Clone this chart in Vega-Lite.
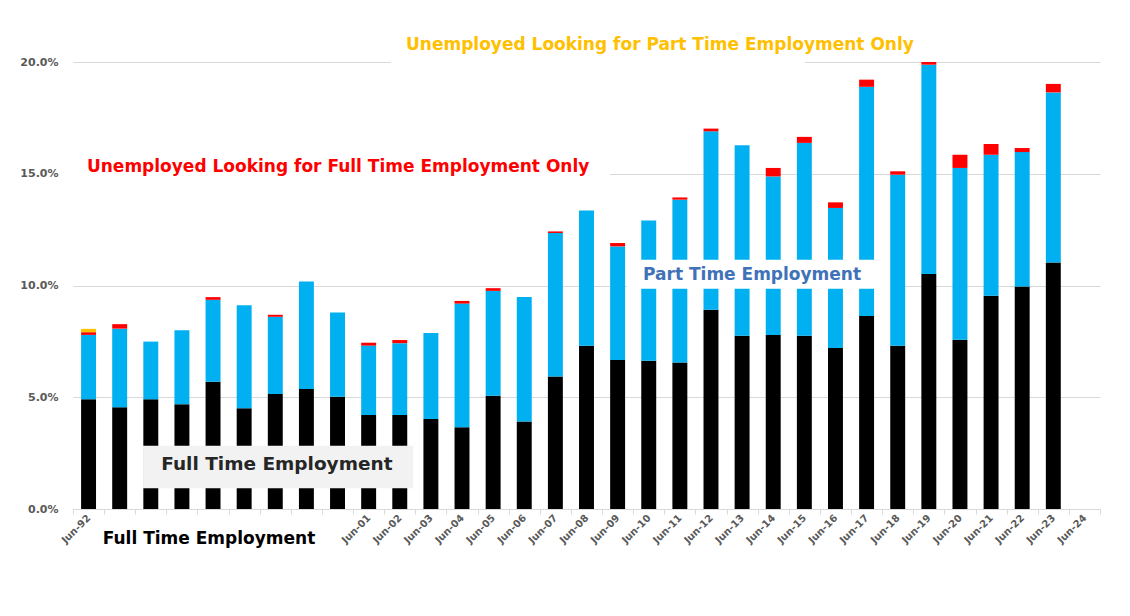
{
  "$schema": "https://vega.github.io/schema/vega-lite/v6.json",
  "autosize": {"type": "none"},
  "padding": {"left": 73, "top": 62, "right": 30, "bottom": 107},
  "width": 1027,
  "height": 447,
  "background": "#ffffff",
  "config": {"view": {"stroke": null}, "font": "DejaVu Sans"},
  "datasets": {
    "emp": [
      {"period": "Jun-92", "series": "Full Time Employment", "value": 0.0491},
      {"period": "Jun-92", "series": "Part Time Employment", "value": 0.0288},
      {"period": "Jun-92", "series": "Unemployed Looking for Full Time Employment Only", "value": 0.0012},
      {"period": "Jun-92", "series": "Unemployed Looking for Part Time Employment Only", "value": 0.0015},
      {"period": "Jun-93", "series": "Full Time Employment", "value": 0.0455},
      {"period": "Jun-93", "series": "Part Time Employment", "value": 0.0352},
      {"period": "Jun-93", "series": "Unemployed Looking for Full Time Employment Only", "value": 0.0020},
      {"period": "Jun-94", "series": "Full Time Employment", "value": 0.0491},
      {"period": "Jun-94", "series": "Part Time Employment", "value": 0.0258},
      {"period": "Jun-95", "series": "Full Time Employment", "value": 0.0469},
      {"period": "Jun-95", "series": "Part Time Employment", "value": 0.0331},
      {"period": "Jun-96", "series": "Full Time Employment", "value": 0.0569},
      {"period": "Jun-96", "series": "Part Time Employment", "value": 0.0367},
      {"period": "Jun-96", "series": "Unemployed Looking for Full Time Employment Only", "value": 0.0012},
      {"period": "Jun-97", "series": "Full Time Employment", "value": 0.0451},
      {"period": "Jun-97", "series": "Part Time Employment", "value": 0.0461},
      {"period": "Jun-98", "series": "Full Time Employment", "value": 0.0514},
      {"period": "Jun-98", "series": "Part Time Employment", "value": 0.0346},
      {"period": "Jun-98", "series": "Unemployed Looking for Full Time Employment Only", "value": 0.0009},
      {"period": "Jun-99", "series": "Full Time Employment", "value": 0.0537},
      {"period": "Jun-99", "series": "Part Time Employment", "value": 0.0481},
      {"period": "Jun-00", "series": "Full Time Employment", "value": 0.0502},
      {"period": "Jun-00", "series": "Part Time Employment", "value": 0.0377},
      {"period": "Jun-01", "series": "Full Time Employment", "value": 0.0421},
      {"period": "Jun-01", "series": "Part Time Employment", "value": 0.0310},
      {"period": "Jun-01", "series": "Unemployed Looking for Full Time Employment Only", "value": 0.0013},
      {"period": "Jun-02", "series": "Full Time Employment", "value": 0.0421},
      {"period": "Jun-02", "series": "Part Time Employment", "value": 0.0321},
      {"period": "Jun-02", "series": "Unemployed Looking for Full Time Employment Only", "value": 0.0014},
      {"period": "Jun-03", "series": "Full Time Employment", "value": 0.0403},
      {"period": "Jun-03", "series": "Part Time Employment", "value": 0.0385},
      {"period": "Jun-04", "series": "Full Time Employment", "value": 0.0366},
      {"period": "Jun-04", "series": "Part Time Employment", "value": 0.0553},
      {"period": "Jun-04", "series": "Unemployed Looking for Full Time Employment Only", "value": 0.0012},
      {"period": "Jun-05", "series": "Full Time Employment", "value": 0.0507},
      {"period": "Jun-05", "series": "Part Time Employment", "value": 0.0469},
      {"period": "Jun-05", "series": "Unemployed Looking for Full Time Employment Only", "value": 0.0012},
      {"period": "Jun-06", "series": "Full Time Employment", "value": 0.0391},
      {"period": "Jun-06", "series": "Part Time Employment", "value": 0.0558},
      {"period": "Jun-07", "series": "Full Time Employment", "value": 0.0593},
      {"period": "Jun-07", "series": "Part Time Employment", "value": 0.0642},
      {"period": "Jun-07", "series": "Unemployed Looking for Full Time Employment Only", "value": 0.0007},
      {"period": "Jun-08", "series": "Full Time Employment", "value": 0.0730},
      {"period": "Jun-08", "series": "Part Time Employment", "value": 0.0606},
      {"period": "Jun-09", "series": "Full Time Employment", "value": 0.0667},
      {"period": "Jun-09", "series": "Part Time Employment", "value": 0.0508},
      {"period": "Jun-09", "series": "Unemployed Looking for Full Time Employment Only", "value": 0.0015},
      {"period": "Jun-10", "series": "Full Time Employment", "value": 0.0663},
      {"period": "Jun-10", "series": "Part Time Employment", "value": 0.0628},
      {"period": "Jun-11", "series": "Full Time Employment", "value": 0.0655},
      {"period": "Jun-11", "series": "Part Time Employment", "value": 0.0729},
      {"period": "Jun-11", "series": "Unemployed Looking for Full Time Employment Only", "value": 0.0010},
      {"period": "Jun-12", "series": "Full Time Employment", "value": 0.0891},
      {"period": "Jun-12", "series": "Part Time Employment", "value": 0.0799},
      {"period": "Jun-12", "series": "Unemployed Looking for Full Time Employment Only", "value": 0.0012},
      {"period": "Jun-13", "series": "Full Time Employment", "value": 0.0775},
      {"period": "Jun-13", "series": "Part Time Employment", "value": 0.0852},
      {"period": "Jun-14", "series": "Full Time Employment", "value": 0.0779},
      {"period": "Jun-14", "series": "Part Time Employment", "value": 0.0709},
      {"period": "Jun-14", "series": "Unemployed Looking for Full Time Employment Only", "value": 0.0038},
      {"period": "Jun-15", "series": "Full Time Employment", "value": 0.0775},
      {"period": "Jun-15", "series": "Part Time Employment", "value": 0.0863},
      {"period": "Jun-15", "series": "Unemployed Looking for Full Time Employment Only", "value": 0.0027},
      {"period": "Jun-16", "series": "Full Time Employment", "value": 0.0720},
      {"period": "Jun-16", "series": "Part Time Employment", "value": 0.0627},
      {"period": "Jun-16", "series": "Unemployed Looking for Full Time Employment Only", "value": 0.0025},
      {"period": "Jun-17", "series": "Full Time Employment", "value": 0.0864},
      {"period": "Jun-17", "series": "Part Time Employment", "value": 0.1025},
      {"period": "Jun-17", "series": "Unemployed Looking for Full Time Employment Only", "value": 0.0032},
      {"period": "Jun-18", "series": "Full Time Employment", "value": 0.0730},
      {"period": "Jun-18", "series": "Part Time Employment", "value": 0.0766},
      {"period": "Jun-18", "series": "Unemployed Looking for Full Time Employment Only", "value": 0.0015},
      {"period": "Jun-19", "series": "Full Time Employment", "value": 0.1051},
      {"period": "Jun-19", "series": "Part Time Employment", "value": 0.0937},
      {"period": "Jun-19", "series": "Unemployed Looking for Full Time Employment Only", "value": 0.0012},
      {"period": "Jun-20", "series": "Full Time Employment", "value": 0.0757},
      {"period": "Jun-20", "series": "Part Time Employment", "value": 0.0769},
      {"period": "Jun-20", "series": "Unemployed Looking for Full Time Employment Only", "value": 0.0059},
      {"period": "Jun-21", "series": "Full Time Employment", "value": 0.0954},
      {"period": "Jun-21", "series": "Part Time Employment", "value": 0.0631},
      {"period": "Jun-21", "series": "Unemployed Looking for Full Time Employment Only", "value": 0.0048},
      {"period": "Jun-22", "series": "Full Time Employment", "value": 0.0996},
      {"period": "Jun-22", "series": "Part Time Employment", "value": 0.0601},
      {"period": "Jun-22", "series": "Unemployed Looking for Full Time Employment Only", "value": 0.0018},
      {"period": "Jun-23", "series": "Full Time Employment", "value": 0.1103},
      {"period": "Jun-23", "series": "Part Time Employment", "value": 0.0761},
      {"period": "Jun-23", "series": "Unemployed Looking for Full Time Employment Only", "value": 0.0038}
    ]
  },
  "layer": [
    {
      "data": {"name": "emp"},
      "mark": {"type": "bar", "width": {"band": 0.48}},
      "encoding": {
        "x": {
          "field": "period",
          "type": "ordinal",
          "sort": null,
          "scale": {
            "domain": ["Jun-92","Jun-93","Jun-94","Jun-95","Jun-96","Jun-97","Jun-98","Jun-99","Jun-00","Jun-01","Jun-02","Jun-03","Jun-04","Jun-05","Jun-06","Jun-07","Jun-08","Jun-09","Jun-10","Jun-11","Jun-12","Jun-13","Jun-14","Jun-15","Jun-16","Jun-17","Jun-18","Jun-19","Jun-20","Jun-21","Jun-22","Jun-23","Jun-24"],
            "paddingInner": 0,
            "paddingOuter": 0
          },
          "axis": {
            "title": null,
            "tickBand": "extent",
            "labelAngle": -45,
            "labelAlign": "right",
            "labelBaseline": "middle",
            "labelPadding": 2,
            "labelFont": "DejaVu Sans",
            "labelFontSize": 10,
            "labelFontWeight": "bold",
            "labelColor": "#595959",
            "labelExpr": "indexof(['Jun-93','Jun-94','Jun-95','Jun-96','Jun-97','Jun-98','Jun-99','Jun-00'], datum.value) >= 0 ? '' : datum.value",
            "domainColor": "#d9d9d9",
            "tickColor": "#d9d9d9",
            "tickSize": 5,
            "grid": false
          }
        },
        "y": {
          "field": "value",
          "type": "quantitative",
          "aggregate": "sum",
          "stack": "zero",
          "scale": {"domain": [0, 0.2], "nice": false},
          "axis": {
            "title": null,
            "values": [0, 0.05, 0.1, 0.15, 0.2],
            "format": ".1%",
            "domain": false,
            "ticks": false,
            "labelPadding": 15,
            "labelFont": "DejaVu Sans",
            "labelFontSize": 11,
            "labelFontWeight": "bold",
            "labelColor": "#595959",
            "gridColor": "#d9d9d9",
            "gridWidth": 1
          }
        },
        "color": {
          "field": "series",
          "type": "nominal",
          "scale": {
            "domain": ["Full Time Employment", "Part Time Employment", "Unemployed Looking for Full Time Employment Only", "Unemployed Looking for Part Time Employment Only"],
            "range": ["#000000", "#00b0f0", "#ff0000", "#ffc000"]
          },
          "legend": null
        },
        "order": {"field": "series", "sort": "ascending"}
      }
    },
    {
      "data": {"values": [{}]},
      "mark": {"type": "rect", "color": "#ffffff"},
      "encoding": {
        "x": {"datum": "Jun-02", "bandPosition": 0.22},
        "x2": {"datum": "Jun-15", "bandPosition": 0.52},
        "y": {"datum": 0.1975},
        "y2": {"datum": 0.2025}
      }
    },
    {
      "data": {"values": [{}]},
      "mark": {"type": "rect", "color": "#ffffff"},
      "encoding": {
        "x": {"datum": "Jun-92", "bandPosition": 0},
        "x2": {"datum": "Jun-09", "bandPosition": 0.26},
        "y": {"datum": 0.145},
        "y2": {"datum": 0.156}
      }
    },
    {
      "data": {"values": [{}]},
      "mark": {"type": "rect", "color": "#ffffff"},
      "encoding": {
        "x": {"datum": "Jun-09", "bandPosition": 0.8},
        "x2": {"datum": "Jun-18", "bandPosition": 0.25},
        "y": {"datum": 0.0985},
        "y2": {"datum": 0.1115}
      }
    },
    {
      "data": {"values": [{}]},
      "mark": {"type": "rect", "color": "#f2f2f2"},
      "encoding": {
        "x": {"datum": "Jun-94", "bandPosition": 0.25},
        "x2": {"datum": "Jun-02", "bandPosition": 0.93},
        "y": {"datum": 0.0093},
        "y2": {"datum": 0.0283}
      }
    },
    {
      "data": {"values": [{}]},
      "mark": {"type": "text", "text": "Unemployed Looking for Part Time Employment Only", "font": "DejaVu Sans", "fontWeight": "bold", "fontSize": 17, "color": "#ffc000", "align": "center", "baseline": "middle"},
      "encoding": {
        "x": {"datum": "Jun-10", "bandPosition": 0.86},
        "y": {"datum": 0.2076}
      }
    },
    {
      "data": {"values": [{}]},
      "mark": {"type": "text", "text": "Unemployed Looking for Full Time Employment Only", "font": "DejaVu Sans", "fontWeight": "bold", "fontSize": 17, "color": "#ff0000", "align": "center", "baseline": "middle"},
      "encoding": {
        "x": {"datum": "Jun-00", "bandPosition": 0.52},
        "y": {"datum": 0.153}
      }
    },
    {
      "data": {"values": [{}]},
      "mark": {"type": "text", "text": "Part Time Employment", "font": "DejaVu Sans", "fontWeight": "bold", "fontSize": 17, "color": "#3f72b8", "align": "center", "baseline": "middle"},
      "encoding": {
        "x": {"datum": "Jun-13", "bandPosition": 0.82},
        "y": {"datum": 0.1047}
      }
    },
    {
      "data": {"values": [{}]},
      "mark": {"type": "text", "text": "Full Time Employment", "font": "DejaVu Sans", "fontWeight": "bold", "fontSize": 18.5, "color": "#262626", "align": "center", "baseline": "middle"},
      "encoding": {
        "x": {"datum": "Jun-98", "bandPosition": 0.55},
        "y": {"datum": 0.0201}
      }
    },
    {
      "data": {"values": [{}]},
      "mark": {"type": "text", "text": "Full Time Employment", "font": "DejaVu Sans", "fontWeight": "bold", "fontSize": 17, "color": "#000000", "align": "center", "baseline": "middle"},
      "encoding": {
        "x": {"datum": "Jun-96", "bandPosition": 0.37},
        "y": {"datum": -0.0134}
      }
    }
  ]
}
